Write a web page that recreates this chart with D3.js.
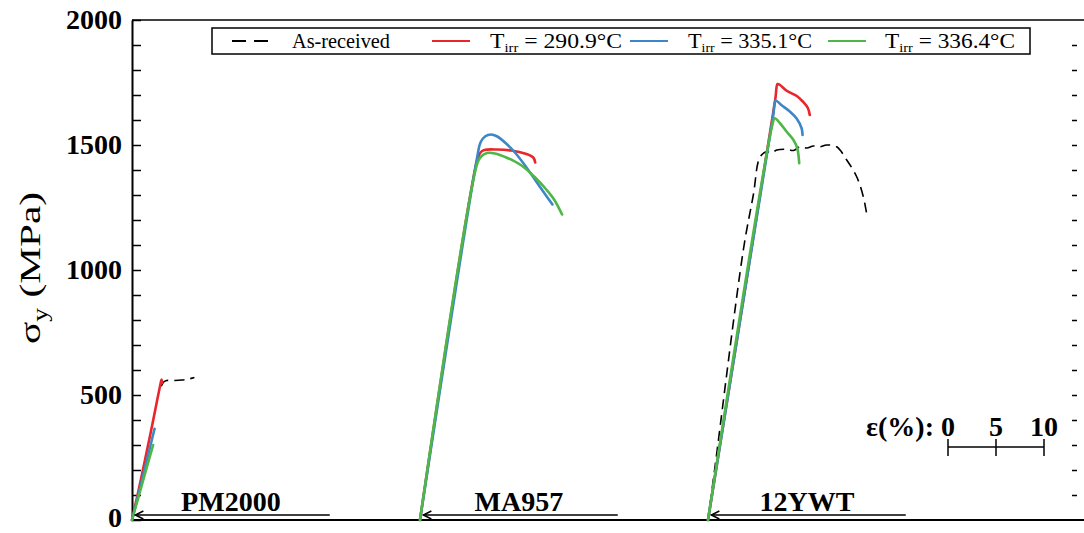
<!DOCTYPE html>
<html lang="en">
<head>
<meta charset="UTF-8">
<title>Yield stress vs strain</title>
<script src="https://d3js.org/d3.v7.min.js"></script>
<style>
  body { margin: 0; background: #fff; }
  svg text { font-family: 'Liberation Serif', 'DejaVu Serif', serif; fill: #000; }
  .tick text { font-size: 28px; font-weight: bold; }
  .tick line { stroke: #000; stroke-width: 1.5; }
  .curve { fill: none; stroke-linejoin: round; }
</style>
</head>
<body>
<svg id="chart" width="1084" height="533"></svg>
<script>
// strain (%) relative to each material's origin, stress (MPa)
const materials = ["PM2000", "MA957", "12YWT"];
const offsets = [0, 30, 60];

const seriesNames = ["As-received", "290.9", "335.1", "336.4"];
const seriesColors = ["#000000", "#e8262b", "#3d86c8", "#4db748"];

const pm2000 = [
  [[3.05, 535], [3.3, 552], [3.6, 558], [4.2, 558], [5.2, 560], [6.0, 565], [6.5, 570]],
  [[0, 0], [1.0, 175], [2.0, 360], [3.0, 550], [3.08, 562], [3.15, 548]],
  [[0, 0], [1.2, 185], [2.35, 365]],
  [[0, 0], [1.1, 150], [2.2, 300]]
];
const ma957 = [
  [],
  [[0, 0], [5.9, 1430], [6.3, 1470], [6.7, 1480], [8.0, 1482], [9.5, 1478], [11.0, 1465], [11.8, 1450], [12.0, 1430]],
  [[0, 0], [5.95, 1450], [6.3, 1510], [6.8, 1535], [7.4, 1542], [8.0, 1535], [9.0, 1505], [10.0, 1465], [11.0, 1415], [12.0, 1360], [13.0, 1305], [13.8, 1262]],
  [[0, 0], [6.0, 1430], [6.4, 1455], [7.0, 1468], [7.8, 1466], [9.0, 1450], [10.5, 1420], [12.0, 1370], [13.2, 1320], [14.0, 1280], [14.8, 1222]]
];
const ywt12 = [
  [[0, 0], [0.73, 213], [3.68, 1080], [4.72, 1300], [5.42, 1452], [6.11, 1473], [6.6, 1468], [7.16, 1480], [8.2, 1483],
   [8.9, 1478], [9.58, 1493], [10.3, 1488], [10.97, 1496], [11.6, 1492], [12.36, 1500], [13.4, 1493], [14.45, 1440],
   [15.49, 1373], [16.18, 1293], [16.53, 1224]],
  [[0, 0], [7.0, 1680], [7.25, 1744], [7.5, 1740], [8.2, 1717], [9.25, 1696], [9.9, 1673], [10.4, 1648], [10.6, 1620]],
  [[0, 0], [6.8, 1620], [7.05, 1677], [7.7, 1658], [8.55, 1633], [9.25, 1605], [9.75, 1567], [9.85, 1540]],
  [[0, 0], [6.7, 1580], [6.95, 1607], [7.5, 1587], [8.2, 1553], [8.9, 1520], [9.3, 1487], [9.45, 1450], [9.5, 1427]]
];
const curves = [pm2000, ma957, ywt12];

const yMajor = [0, 500, 1000, 1500, 2000];
const scaleTicks = [0, 5, 10];
const scaleOrigin = 85;

const svg = d3.select("#chart");
const plotLeft = 132, plotTop = 20, plotBottom = 520;

const x = d3.scaleLinear().domain([0, 100]).range([plotLeft, 1092]);
const y = d3.scaleLinear().domain([0, 2000]).range([plotBottom, plotTop]);

// frame
svg.append("line").attr("x1", plotLeft).attr("x2", 1084).attr("y1", plotTop).attr("y2", plotTop)
  .attr("stroke", "#000").attr("stroke-width", 1.5);
svg.append("line").attr("x1", plotLeft).attr("x2", 1084).attr("y1", plotBottom).attr("y2", plotBottom)
  .attr("stroke", "#000").attr("stroke-width", 2);

// left axis
const yAxis = svg.append("g")
  .attr("transform", `translate(${plotLeft},0)`)
  .call(d3.axisLeft(y)
    .tickValues(d3.range(0, 2001, 100))
    .tickSizeInner(-9).tickSizeOuter(0).tickPadding(10)
    .tickFormat(d => yMajor.includes(d) ? d : ""));
yAxis.attr("font-family", null);
yAxis.select(".domain").attr("stroke-width", 2);
yAxis.selectAll(".tick text").attr("dy", d => d === 0 ? "0.22em" : "0.32em");

// right minor ticks
const yRight = svg.append("g")
  .attr("transform", "translate(1077,0)")
  .call(d3.axisLeft(y).tickValues(d3.range(100, 2000, 100)).tickSize(5).tickFormat(""));
yRight.select(".domain").remove();

// y label
const yl = svg.append("text")
  .attr("transform", "translate(40,268) rotate(-90)")
  .attr("text-anchor", "middle")
  .attr("textLength", 152).attr("lengthAdjust", "spacingAndGlyphs")
  .style("font-size", "30px");
yl.append("tspan").text("σ");
yl.append("tspan").attr("dy", 7).style("font-size", "20px").text("y");
yl.append("tspan").attr("dy", -7).text(" (MPa)");

// curves
const line = d3.line().x(d => x(d[0])).y(d => y(d[1])).curve(d3.curveCatmullRom.alpha(0.5));
curves.forEach((set, m) => {
  set.forEach((pts, s) => {
    if (!pts.length) return;
    svg.append("path")
      .attr("class", "curve")
      .attr("d", line(pts.map(p => [p[0] + offsets[m], p[1]])))
      .attr("stroke", seriesColors[s])
      .attr("stroke-width", s === 0 ? 1.6 : 2.6)
      .attr("stroke-dasharray", s === 0 ? "10,6" : null)
      .attr("stroke-linecap", s === 0 ? "butt" : "round");
  });
});

// material labels with arrows
materials.forEach((name, i) => {
  const x0 = x(offsets[i] + 0.35), x1 = x(offsets[i] + 20.6);
  const ay = 515;
  svg.append("line").attr("x1", x0).attr("x2", x1).attr("y1", ay).attr("y2", ay)
    .attr("stroke", "#000").attr("stroke-width", 1.5);
  svg.append("path")
    .attr("d", `M${x0 + 8},${ay - 4}L${x0},${ay}L${x0 + 8},${ay + 4}`)
    .attr("fill", "none").attr("stroke", "#000").attr("stroke-width", 1.5);
  svg.append("text")
    .attr("x", x(offsets[i] + 10.3)).attr("y", 511)
    .attr("text-anchor", "middle")
    .style("font-size", "28px").style("font-weight", "bold")
    .text(name);
});

// strain scale bar
const sb = svg.append("g");
sb.append("line").attr("x1", x(scaleOrigin)).attr("x2", x(scaleOrigin + 10))
  .attr("y1", 447).attr("y2", 447).attr("stroke", "#000").attr("stroke-width", 1.5);
scaleTicks.forEach(t => {
  sb.append("line").attr("x1", x(scaleOrigin + t)).attr("x2", x(scaleOrigin + t))
    .attr("y1", 439).attr("y2", 456).attr("stroke", "#000").attr("stroke-width", 1.5);
  sb.append("text").attr("x", x(scaleOrigin + t)).attr("y", 436)
    .attr("text-anchor", "middle").style("font-size", "28px").style("font-weight", "bold")
    .text(t);
});
sb.append("text").attr("x", 934).attr("y", 436).attr("text-anchor", "end")
  .style("font-size", "28px").style("font-weight", "bold").text("ε(%):");

// legend
const lg = svg.append("g");
lg.append("rect").attr("x", 212).attr("y", 28).attr("width", 818).attr("height", 26)
  .attr("fill", "#fff").attr("stroke", "#000").attr("stroke-width", 1.5);
const lineX = [232, 432, 630, 828];
const textX = [292, 490, 688, 885];
const textW = [98, 132, 124, 130];
seriesNames.forEach((n, i) => {
  lg.append("line").attr("x1", lineX[i]).attr("x2", lineX[i] + 38).attr("y1", 41).attr("y2", 41)
    .attr("stroke", seriesColors[i]).attr("stroke-width", i === 0 ? 1.8 : 2)
    .attr("stroke-dasharray", i === 0 ? "14,8" : null);
  const t = lg.append("text").attr("x", textX[i]).attr("y", 48)
    .attr("textLength", textW[i]).attr("lengthAdjust", "spacingAndGlyphs")
    .style("font-size", "21px");
  if (i === 0) {
    t.text(n);
  } else {
    t.append("tspan").text("T");
    t.append("tspan").attr("dy", 4).style("font-size", "13px").text("irr");
    t.append("tspan").attr("dy", -4).text(` = ${n}°C`);
  }
});
</script>
</body>
</html>
